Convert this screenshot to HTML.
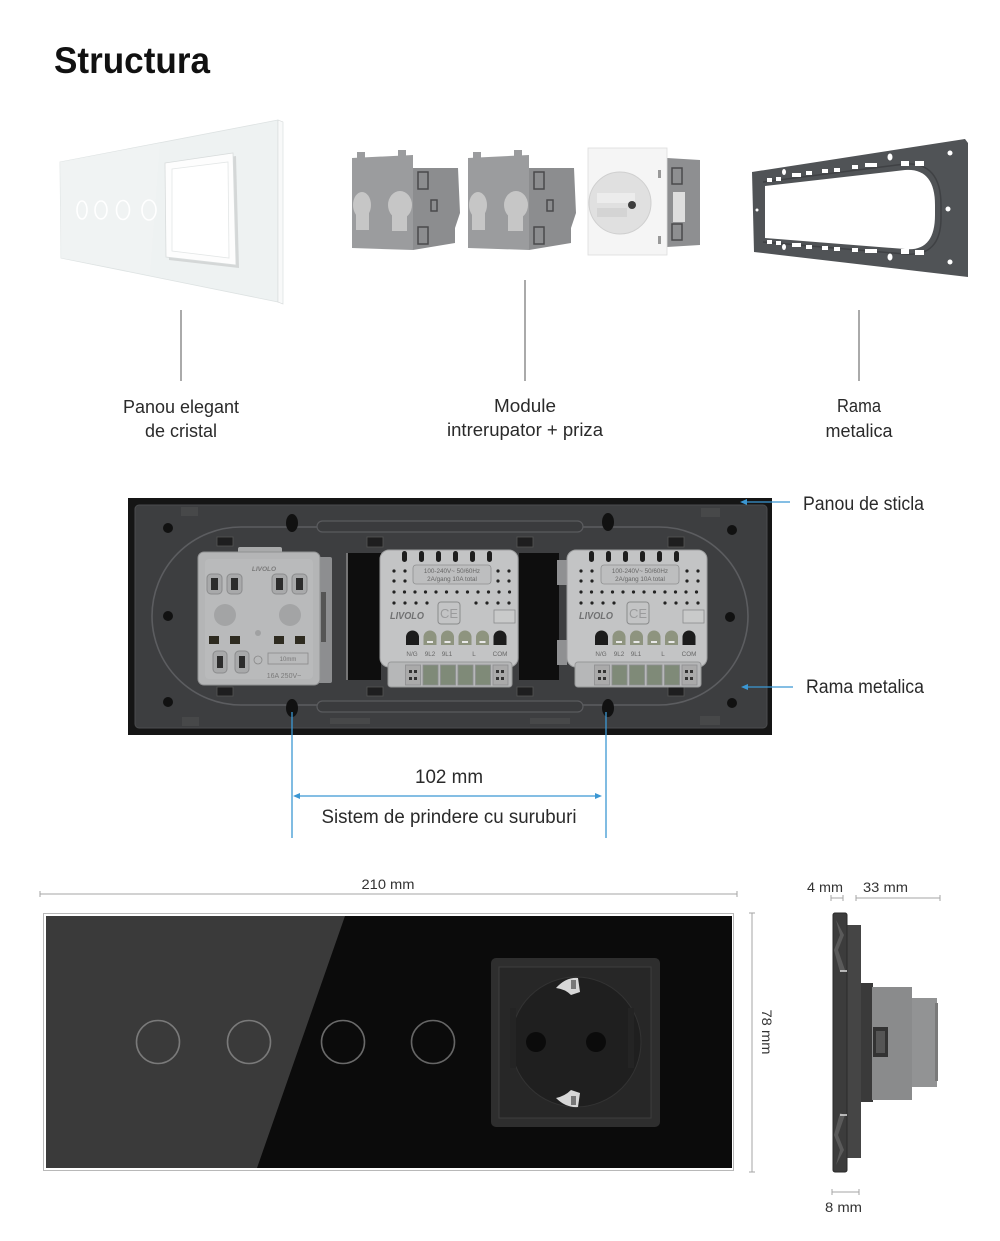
<!DOCTYPE html>
<html><head><meta charset="utf-8">
<style>
html,body{margin:0;padding:0;background:#fff;}
svg{display:block;}
text{font-family:"Liberation Sans",sans-serif;}
</style></head>
<body>
<svg width="1000" height="1241" viewBox="0 0 1000 1241" xmlns="http://www.w3.org/2000/svg">
<rect width="1000" height="1241" fill="#fff"/>

<!-- Title -->
<text x="54" y="73" font-size="37" font-weight="bold" fill="#111" textLength="156" lengthAdjust="spacingAndGlyphs">Structura</text>

<!-- ===== TOP: white glass panel ===== -->
<polygon points="60,162 278,120 278,302 61,258" fill="#eef2f2" stroke="#dde2e2" stroke-width="0.8"/>
<polygon points="60,162 160,143 150,275 61,258" fill="#f1f4f4" opacity="0.7"/>
<polygon points="278,120 283,122 283,304 278,302" fill="#f8f9f9" stroke="#d5d9d9" stroke-width="0.6"/>
<ellipse cx="82" cy="210" rx="5" ry="9" fill="none" stroke="#fff" stroke-width="1.6"/>
<ellipse cx="101" cy="210" rx="6" ry="9" fill="none" stroke="#fff" stroke-width="1.6"/>
<ellipse cx="123" cy="210" rx="6.5" ry="9.5" fill="none" stroke="#fff" stroke-width="1.6"/>
<ellipse cx="149" cy="210" rx="7" ry="10" fill="none" stroke="#fff" stroke-width="1.6"/>
<polygon points="168,166 236,156 239,268 169,260" fill="#c9cccc" opacity="0.7"/>
<polygon points="165,163 233,153 236,265 166,257" fill="#fdfdfd" stroke="#d8dcdc" stroke-width="0.8"/>
<polygon points="172,169 228,162 229,258 172,251" fill="#fff" stroke="#e3e6e6" stroke-width="0.8"/>

<!-- ===== TOP: modules ===== -->
<g>
  <polygon points="413,168 458,168 460,213 455,228 455,243 413,250" fill="#8c8d8f"/>
  <polygon points="352,158 413,155 413,250 352,248" fill="#9b9c9e"/>
  <rect x="357" y="152" width="8" height="7" fill="#9b9c9e"/>
  <rect x="398" y="150" width="8" height="7" fill="#9b9c9e"/>
  <ellipse cx="362" cy="205" rx="9" ry="13" fill="#c6c6c6"/>
  <rect x="356" y="210" width="13" height="20" fill="#c6c6c6"/>
  <ellipse cx="400" cy="205" rx="12" ry="14" fill="#c6c6c6"/>
  <rect x="392" y="210" width="15" height="21" fill="#c6c6c6"/>
  <rect x="418" y="172" width="10" height="17" fill="none" stroke="#4a4a4c" stroke-width="1.5"/>
  <rect x="431" y="200" width="6" height="11" fill="none" stroke="#4a4a4c" stroke-width="1.5"/>
  <rect x="418" y="227" width="10" height="17" fill="none" stroke="#4a4a4c" stroke-width="1.5"/>
</g>
<g transform="translate(116,0)">
  <polygon points="413,168 458,168 460,213 455,228 455,243 413,250" fill="#8c8d8f"/>
  <polygon points="352,158 413,155 413,250 352,248" fill="#9b9c9e"/>
  <rect x="357" y="152" width="8" height="7" fill="#9b9c9e"/>
  <rect x="398" y="150" width="8" height="7" fill="#9b9c9e"/>
  <ellipse cx="362" cy="205" rx="9" ry="13" fill="#c6c6c6"/>
  <rect x="356" y="210" width="13" height="20" fill="#c6c6c6"/>
  <ellipse cx="400" cy="205" rx="12" ry="14" fill="#c6c6c6"/>
  <rect x="392" y="210" width="15" height="21" fill="#c6c6c6"/>
  <rect x="418" y="172" width="10" height="17" fill="none" stroke="#4a4a4c" stroke-width="1.5"/>
  <rect x="431" y="200" width="6" height="11" fill="none" stroke="#4a4a4c" stroke-width="1.5"/>
  <rect x="418" y="227" width="10" height="17" fill="none" stroke="#4a4a4c" stroke-width="1.5"/>
</g>
<!-- socket top -->
<polygon points="667,158 700,160 700,245 667,247" fill="#8e8f91"/>
<rect x="673" y="192" width="12" height="30" fill="#dedede"/>
<rect x="672" y="168" width="10" height="16" fill="none" stroke="#4a4a4c" stroke-width="1.5"/>
<rect x="672" y="224" width="10" height="16" fill="none" stroke="#4a4a4c" stroke-width="1.5"/>
<rect x="588" y="148" width="79" height="107" fill="#f5f5f5" stroke="#dcdcdc" stroke-width="0.8"/>
<circle cx="620" cy="203" r="31" fill="#e0e0e0" stroke="#cfcfcf"/>
<rect x="597" y="193" width="38" height="10" fill="#ececec"/>
<rect x="597" y="208" width="30" height="9" fill="#d4d4d4"/>
<circle cx="632" cy="205" r="4" fill="#3e3e3e"/>
<rect x="658" y="170" width="3" height="8" fill="#999"/>
<rect x="658" y="236" width="3" height="8" fill="#999"/>

<!-- ===== TOP: metal frame ===== -->
<polygon points="752,172 965,139 968,143 968,277 754,252" fill="#505356"/>
<path d="M765,186 L905,170 Q935,168 935,205 L935,215 Q935,252 905,249 L765,238 Z" fill="#fff"/>
<path d="M763,182 L905,164 Q941,162 941,205 L941,218 Q941,257 905,254 L763,242" fill="none" stroke="#3f4144" stroke-width="1.5"/>
<g fill="#fff">
  <rect x="767" y="178" width="5" height="4"/><rect x="776" y="177" width="5" height="4"/>
  <rect x="792" y="173" width="9" height="4"/><rect x="806" y="171" width="6" height="4"/>
  <rect x="822" y="169" width="6" height="4"/><rect x="834" y="168" width="6" height="4"/>
  <rect x="852" y="165" width="6" height="4"/><rect x="865" y="163" width="12" height="4"/>
  <rect x="901" y="161" width="8" height="5"/><rect x="915" y="161" width="9" height="5"/>
  <rect x="767" y="240" width="5" height="4"/><rect x="776" y="241" width="5" height="4"/>
  <rect x="792" y="243" width="9" height="4"/><rect x="806" y="245" width="6" height="4"/>
  <rect x="822" y="246" width="6" height="4"/><rect x="834" y="247" width="6" height="4"/>
  <rect x="852" y="248" width="6" height="4"/><rect x="865" y="249" width="12" height="4"/>
  <rect x="901" y="249" width="8" height="5"/><rect x="915" y="250" width="9" height="5"/>
  <ellipse cx="784" cy="172" rx="2" ry="3"/><ellipse cx="890" cy="157" rx="2.5" ry="3.5"/>
  <ellipse cx="784" cy="247" rx="2" ry="3"/><ellipse cx="890" cy="257" rx="2.5" ry="3.5"/>
  <circle cx="950" cy="153" r="2.5"/><circle cx="948" cy="209" r="2.5"/><circle cx="950" cy="262" r="2.5"/>
  <circle cx="757" cy="210" r="1.5"/>
</g>

<!-- top connector lines -->
<line x1="181" y1="310" x2="181" y2="381" stroke="#555" stroke-width="1"/>
<line x1="525" y1="280" x2="525" y2="381" stroke="#555" stroke-width="1"/>
<line x1="859" y1="310" x2="859" y2="381" stroke="#555" stroke-width="1"/>

<!-- top labels -->
<g font-size="18" fill="#2a2a2a" text-anchor="middle">
  <text x="181" y="413" textLength="116" lengthAdjust="spacingAndGlyphs">Panou elegant</text>
  <text x="181" y="437" textLength="72" lengthAdjust="spacingAndGlyphs">de cristal</text>
  <text x="525" y="412" textLength="62" lengthAdjust="spacingAndGlyphs">Module</text>
  <text x="525" y="436" textLength="156" lengthAdjust="spacingAndGlyphs">intrerupator + priza</text>
  <text x="859" y="412" textLength="44" lengthAdjust="spacingAndGlyphs">Rama</text>
  <text x="859" y="437" textLength="67" lengthAdjust="spacingAndGlyphs">metalica</text>
</g>

<!-- ===== MIDDLE: back view ===== -->
<rect x="128" y="498" width="644" height="237" fill="#151515"/>
<rect x="135" y="505" width="632" height="223" rx="4" fill="#3d3e40" stroke="#4b4c4e" stroke-width="1"/>
<!-- edge notches -->
<g fill="#474849">
  <rect x="181" y="507" width="17" height="9"/><rect x="701" y="508" width="19" height="9"/>
  <rect x="182" y="717" width="17" height="9"/><rect x="700" y="716" width="20" height="9"/>
  <rect x="330" y="718" width="40" height="6"/><rect x="530" y="718" width="40" height="6"/>
</g>
<!-- racetrack -->
<rect x="152" y="527" width="596" height="178" rx="89" fill="none" stroke="#5c5d60" stroke-width="1.6"/>
<!-- grooves -->
<rect x="317" y="521" width="266" height="11" rx="5.5" fill="#3a3b3d" stroke="#5a5b5e" stroke-width="1.2"/>
<rect x="317" y="701" width="266" height="11" rx="5.5" fill="#3a3b3d" stroke="#5a5b5e" stroke-width="1.2"/>
<!-- holes -->
<g fill="#111">
  <circle cx="168" cy="528" r="5"/><circle cx="168" cy="616" r="5"/><circle cx="168" cy="702" r="5"/>
  <circle cx="732" cy="530" r="5"/><circle cx="730" cy="617" r="5"/><circle cx="732" cy="703" r="5"/>
  <ellipse cx="292" cy="523" rx="6" ry="9"/><ellipse cx="292" cy="708" rx="6" ry="9"/>
  <ellipse cx="608" cy="522" rx="6" ry="9"/><ellipse cx="608" cy="708" rx="6" ry="9"/>
</g>
<!-- clip slots -->
<g fill="#1e1e1f" stroke="#555" stroke-width="0.8">
  <rect x="217" y="537" width="16" height="9"/><rect x="367" y="537" width="16" height="10"/>
  <rect x="517" y="537" width="16" height="10"/><rect x="668" y="537" width="16" height="10"/>
  <rect x="217" y="687" width="16" height="9"/><rect x="367" y="687" width="16" height="9"/>
  <rect x="517" y="687" width="16" height="9"/><rect x="668" y="687" width="16" height="9"/>
</g>
<!-- black gaps -->
<rect x="348" y="553" width="33" height="127" fill="#0e0e0e"/>
<line x1="347" y1="553" x2="347" y2="680" stroke="#aaa" stroke-width="1"/>
<rect x="519" y="553" width="40" height="127" fill="#0e0e0e"/>
<rect x="557" y="560" width="10" height="25" fill="#8f9092"/>
<rect x="557" y="640" width="10" height="25" fill="#8f9092"/>

<!-- Module A (Schuko back) -->
<g transform="translate(198,552)">
  <rect x="116" y="5" width="18" height="126" rx="2" fill="#8d8e90"/>
  <rect x="123" y="40" width="5" height="50" fill="#555"/>
  <rect x="40" y="-5" width="44" height="9" rx="2" fill="#a9aaab"/>
  <rect x="0" y="0" width="122" height="133" rx="6" fill="#b4b5b6" stroke="#909192" stroke-width="1"/>
  <rect x="7" y="7" width="108" height="120" rx="4" fill="#b9babb"/>
  <text x="66" y="19" font-size="6.5" font-style="italic" font-weight="bold" fill="#7a7a7a" text-anchor="middle">LIVOLO</text>
  <g fill="#a8a9aa" stroke="#8b8c8d" stroke-width="1">
    <rect x="9" y="22" width="15" height="20" rx="4"/><rect x="29" y="22" width="15" height="20" rx="4"/>
    <rect x="74" y="22" width="15" height="20" rx="4"/><rect x="94" y="22" width="15" height="20" rx="4"/>
  </g>
  <g fill="#2c2c2c">
    <rect x="13" y="26" width="7" height="12"/><rect x="33" y="26" width="7" height="12"/>
    <rect x="78" y="26" width="7" height="12"/><rect x="98" y="26" width="7" height="12"/>
  </g>
  <circle cx="27" cy="63" r="11" fill="#a3a4a5"/>
  <circle cx="92" cy="63" r="11" fill="#a3a4a5"/>
  <circle cx="60" cy="81" r="3" fill="#a0a1a2"/>
  <g fill="#2e2b20">
    <rect x="11" y="84" width="10" height="8"/><rect x="32" y="84" width="10" height="8"/>
    <rect x="76" y="84" width="10" height="8"/><rect x="97" y="84" width="10" height="8"/>
  </g>
  <g fill="#a8a9aa" stroke="#8b8c8d" stroke-width="1">
    <rect x="15" y="99" width="14" height="22" rx="4"/><rect x="37" y="99" width="14" height="22" rx="4"/>
  </g>
  <rect x="19" y="104" width="6" height="12" fill="#2c2c2c"/><rect x="41" y="104" width="6" height="12" fill="#2c2c2c"/>
  <circle cx="60" cy="108" r="4" fill="none" stroke="#888" stroke-width="0.8"/>
  <rect x="70" y="101" width="40" height="11" fill="none" stroke="#8a8a8a" stroke-width="0.8"/>
  <text x="90" y="109" font-size="6" fill="#777" text-anchor="middle">10mm</text>
  <text x="86" y="126" font-size="7" fill="#7a7a7a" text-anchor="middle">16A 250V~</text>
</g>

<!-- Module B -->
<g transform="translate(380,548)">
  <rect x="0" y="2" width="138" height="117" rx="9" fill="#c3c4c5" stroke="#9c9d9e" stroke-width="1"/>
  <rect x="8" y="114" width="124" height="25" rx="3" fill="#b6b7b8" stroke="#979899" stroke-width="1"/>
  <g fill="#1d1d1d">
    <rect x="22" y="3" width="5" height="11" rx="2.5"/><rect x="39" y="3" width="5" height="11" rx="2.5"/>
    <rect x="56" y="3" width="5" height="11" rx="2.5"/><rect x="73" y="3" width="5" height="11" rx="2.5"/>
    <rect x="90" y="3" width="5" height="11" rx="2.5"/><rect x="107" y="3" width="5" height="11" rx="2.5"/>
  </g>
  <rect x="33" y="17" width="78" height="19" rx="3" fill="#bdbebf" stroke="#8e8f90" stroke-width="0.8"/>
  <text x="72" y="25" font-size="6.3" fill="#666" text-anchor="middle">100-240V~ 50/60Hz</text>
  <text x="72" y="33" font-size="6.3" fill="#666" text-anchor="middle">2A/gang 10A total</text>
  <g fill="#222">
    <circle cx="14" cy="23" r="1.6"/><circle cx="25" cy="23" r="1.6"/><circle cx="14" cy="33" r="1.6"/><circle cx="25" cy="33" r="1.6"/>
    <circle cx="118" cy="23" r="1.6"/><circle cx="129" cy="23" r="1.6"/><circle cx="118" cy="33" r="1.6"/><circle cx="129" cy="33" r="1.6"/>
    <circle cx="14" cy="44" r="1.6"/><circle cx="24.5" cy="44" r="1.6"/><circle cx="35" cy="44" r="1.6"/><circle cx="45.5" cy="44" r="1.6"/>
    <circle cx="56" cy="44" r="1.6"/><circle cx="66.5" cy="44" r="1.6"/><circle cx="77" cy="44" r="1.6"/><circle cx="87.5" cy="44" r="1.6"/>
    <circle cx="98" cy="44" r="1.6"/><circle cx="108.5" cy="44" r="1.6"/><circle cx="119" cy="44" r="1.6"/><circle cx="129.5" cy="44" r="1.6"/>
    <circle cx="14" cy="55" r="1.6"/><circle cx="25" cy="55" r="1.6"/><circle cx="36" cy="55" r="1.6"/><circle cx="47" cy="55" r="1.6"/>
    <circle cx="96" cy="55" r="1.6"/><circle cx="107" cy="55" r="1.6"/><circle cx="118" cy="55" r="1.6"/><circle cx="129" cy="55" r="1.6"/>
  </g>
  <text x="10" y="71" font-size="10" font-style="italic" font-weight="bold" fill="#707172" textLength="34" lengthAdjust="spacingAndGlyphs">LIVOLO</text>
  <rect x="58" y="54" width="22" height="22" rx="3" fill="none" stroke="#8a8b8c" stroke-width="1"/>
  <text x="69" y="70" font-size="13" fill="#9a9b9c" text-anchor="middle">CE</text>
  <rect x="114" y="62" width="21" height="13" fill="#c9caca" stroke="#8a8b8c" stroke-width="0.8"/>
  <path d="M26,97 v-8 a6.5,6.5 0 0 1 13,0 v8 z" fill="#1c1c1c"/>
  <path d="M43.5,97 v-8 a6.5,6.5 0 0 1 13,0 v8 z" fill="#8e947f"/>
  <path d="M61,97 v-8 a6.5,6.5 0 0 1 13,0 v8 z" fill="#8e947f"/>
  <path d="M78.5,97 v-8 a6.5,6.5 0 0 1 13,0 v8 z" fill="#8e947f"/>
  <path d="M96,97 v-8 a6.5,6.5 0 0 1 13,0 v8 z" fill="#8e947f"/>
  <path d="M113.5,97 v-8 a6.5,6.5 0 0 1 13,0 v8 z" fill="#1c1c1c"/>
  <g fill="#e8e8e8"><rect x="47" y="93" width="6" height="2"/><rect x="64.5" y="93" width="6" height="2"/><rect x="82" y="93" width="6" height="2"/><rect x="99.5" y="93" width="6" height="2"/></g>
  <g font-size="6.3" fill="#666" text-anchor="middle">
    <text x="32" y="108">N/G</text><text x="50" y="108">9L2</text><text x="67" y="108">9L1</text><text x="94" y="108">L</text><text x="120" y="108">COM</text>
  </g>
  <g fill="#7f8a78" stroke="#8d8e8f" stroke-width="0.8">
    <rect x="43" y="117" width="15" height="20"/><rect x="60.5" y="117" width="15" height="20"/>
    <rect x="78" y="117" width="15" height="20"/><rect x="95.5" y="117" width="15" height="20"/>
  </g>
  <g fill="#aaa" stroke="#8d8e8f" stroke-width="0.8">
    <rect x="25.5" y="117" width="15" height="20"/><rect x="113" y="117" width="15" height="20"/>
  </g>
  <g fill="#333"><rect x="29" y="122" width="3" height="3"/><rect x="34" y="122" width="3" height="3"/><rect x="29" y="129" width="3" height="3"/><rect x="34" y="129" width="3" height="3"/>
  <rect x="116" y="122" width="3" height="3"/><rect x="121" y="122" width="3" height="3"/><rect x="116" y="129" width="3" height="3"/><rect x="121" y="129" width="3" height="3"/></g>
</g>

<!-- Module C -->
<g transform="translate(567,548)">
  <rect x="0" y="2" width="140" height="117" rx="9" fill="#c3c4c5" stroke="#9c9d9e" stroke-width="1"/>
  <rect x="8" y="114" width="126" height="25" rx="3" fill="#b6b7b8" stroke="#979899" stroke-width="1"/>
  <g fill="#1d1d1d">
    <rect x="22" y="3" width="5" height="11" rx="2.5"/><rect x="39" y="3" width="5" height="11" rx="2.5"/>
    <rect x="56" y="3" width="5" height="11" rx="2.5"/><rect x="73" y="3" width="5" height="11" rx="2.5"/>
    <rect x="90" y="3" width="5" height="11" rx="2.5"/><rect x="107" y="3" width="5" height="11" rx="2.5"/>
  </g>
  <rect x="34" y="17" width="78" height="19" rx="3" fill="#bdbebf" stroke="#8e8f90" stroke-width="0.8"/>
  <text x="73" y="25" font-size="6.3" fill="#666" text-anchor="middle">100-240V~ 50/60Hz</text>
  <text x="73" y="33" font-size="6.3" fill="#666" text-anchor="middle">2A/gang 10A total</text>
  <g fill="#222">
    <circle cx="14" cy="23" r="1.6"/><circle cx="25" cy="23" r="1.6"/><circle cx="14" cy="33" r="1.6"/><circle cx="25" cy="33" r="1.6"/>
    <circle cx="120" cy="23" r="1.6"/><circle cx="131" cy="23" r="1.6"/><circle cx="120" cy="33" r="1.6"/><circle cx="131" cy="33" r="1.6"/>
    <circle cx="14" cy="44" r="1.6"/><circle cx="24.5" cy="44" r="1.6"/><circle cx="35" cy="44" r="1.6"/><circle cx="45.5" cy="44" r="1.6"/>
    <circle cx="56" cy="44" r="1.6"/><circle cx="66.5" cy="44" r="1.6"/><circle cx="77" cy="44" r="1.6"/><circle cx="87.5" cy="44" r="1.6"/>
    <circle cx="98" cy="44" r="1.6"/><circle cx="108.5" cy="44" r="1.6"/><circle cx="119" cy="44" r="1.6"/><circle cx="129.5" cy="44" r="1.6"/>
    <circle cx="14" cy="55" r="1.6"/><circle cx="25" cy="55" r="1.6"/><circle cx="36" cy="55" r="1.6"/><circle cx="47" cy="55" r="1.6"/>
    <circle cx="98" cy="55" r="1.6"/><circle cx="109" cy="55" r="1.6"/><circle cx="120" cy="55" r="1.6"/><circle cx="131" cy="55" r="1.6"/>
  </g>
  <text x="12" y="71" font-size="10" font-style="italic" font-weight="bold" fill="#707172" textLength="34" lengthAdjust="spacingAndGlyphs">LIVOLO</text>
  <rect x="60" y="54" width="22" height="22" rx="3" fill="none" stroke="#8a8b8c" stroke-width="1"/>
  <text x="71" y="70" font-size="13" fill="#9a9b9c" text-anchor="middle">CE</text>
  <rect x="116" y="62" width="21" height="13" fill="#c9caca" stroke="#8a8b8c" stroke-width="0.8"/>
  <path d="M28,97 v-8 a6.5,6.5 0 0 1 13,0 v8 z" fill="#1c1c1c"/>
  <path d="M45.5,97 v-8 a6.5,6.5 0 0 1 13,0 v8 z" fill="#8e947f"/>
  <path d="M63,97 v-8 a6.5,6.5 0 0 1 13,0 v8 z" fill="#8e947f"/>
  <path d="M80.5,97 v-8 a6.5,6.5 0 0 1 13,0 v8 z" fill="#8e947f"/>
  <path d="M98,97 v-8 a6.5,6.5 0 0 1 13,0 v8 z" fill="#8e947f"/>
  <path d="M115.5,97 v-8 a6.5,6.5 0 0 1 13,0 v8 z" fill="#1c1c1c"/>
  <g fill="#e8e8e8"><rect x="49" y="93" width="6" height="2"/><rect x="66.5" y="93" width="6" height="2"/><rect x="84" y="93" width="6" height="2"/><rect x="101.5" y="93" width="6" height="2"/></g>
  <g font-size="6.3" fill="#666" text-anchor="middle">
    <text x="34" y="108">N/G</text><text x="52" y="108">9L2</text><text x="69" y="108">9L1</text><text x="96" y="108">L</text><text x="122" y="108">COM</text>
  </g>
  <g fill="#7f8a78" stroke="#8d8e8f" stroke-width="0.8">
    <rect x="45" y="117" width="15" height="20"/><rect x="62.5" y="117" width="15" height="20"/>
    <rect x="80" y="117" width="15" height="20"/><rect x="97.5" y="117" width="15" height="20"/>
  </g>
  <g fill="#aaa" stroke="#8d8e8f" stroke-width="0.8">
    <rect x="27.5" y="117" width="15" height="20"/><rect x="115" y="117" width="15" height="20"/>
  </g>
  <g fill="#333"><rect x="31" y="122" width="3" height="3"/><rect x="36" y="122" width="3" height="3"/><rect x="31" y="129" width="3" height="3"/><rect x="36" y="129" width="3" height="3"/>
  <rect x="118" y="122" width="3" height="3"/><rect x="123" y="122" width="3" height="3"/><rect x="118" y="129" width="3" height="3"/><rect x="123" y="129" width="3" height="3"/></g>
</g>

<!-- blue arrows right -->
<g stroke="#3b97d3" stroke-width="1.3" fill="#3b97d3">
  <line x1="744" y1="502" x2="790" y2="502"/>
  <polygon points="740,502 747,499 747,505" stroke="none"/>
  <line x1="745" y1="687" x2="793" y2="687"/>
  <polygon points="741,687 748,684 748,690" stroke="none"/>
  <line x1="292" y1="712" x2="292" y2="838"/>
  <line x1="606" y1="712" x2="606" y2="838"/>
  <line x1="298" y1="796" x2="597" y2="796"/>
  <polygon points="293,796 300,793 300,799" stroke="none"/>
  <polygon points="602,796 595,793 595,799" stroke="none"/>
</g>
<g font-size="19" fill="#2a2a2a">
  <text x="803" y="510" textLength="121" lengthAdjust="spacingAndGlyphs">Panou de sticla</text>
  <text x="806" y="693" textLength="118" lengthAdjust="spacingAndGlyphs">Rama metalica</text>
  <text x="449" y="783" text-anchor="middle" textLength="68" lengthAdjust="spacingAndGlyphs">102 mm</text>
  <text x="449" y="823" text-anchor="middle" textLength="255" lengthAdjust="spacingAndGlyphs">Sistem de prindere cu suruburi</text>
</g>

<!-- ===== BOTTOM: front view ===== -->
<g stroke="#a5a5a5" stroke-width="1">
  <line x1="40" y1="894" x2="737" y2="894"/>
  <line x1="40" y1="891" x2="40" y2="897"/>
  <line x1="737" y1="891" x2="737" y2="897"/>
  <line x1="752" y1="913" x2="752" y2="1172"/>
  <line x1="749" y1="913" x2="755" y2="913"/>
  <line x1="749" y1="1172" x2="755" y2="1172"/>
</g>
<text x="388" y="889" font-size="14" fill="#333" text-anchor="middle" textLength="53" lengthAdjust="spacingAndGlyphs">210 mm</text>
<text transform="translate(762,1032) rotate(90)" x="0" y="0" font-size="14" fill="#333" text-anchor="middle" textLength="45" lengthAdjust="spacingAndGlyphs">78 mm</text>

<rect x="43.5" y="913.5" width="690" height="257" fill="#fff" stroke="#b8b8b8" stroke-width="1"/>
<rect x="46" y="916" width="686" height="252" fill="#0b0b0b"/>
<polygon points="46,916 345,916 257,1168 46,1168" fill="#3a3a3a"/>
<g fill="none" stroke-width="1.6">
  <circle cx="158" cy="1042" r="21.5" stroke="#7a7a7a"/>
  <circle cx="249" cy="1042" r="21.5" stroke="#7a7a7a"/>
  <circle cx="343" cy="1042" r="21.5" stroke="#6a6a6a"/>
  <circle cx="433" cy="1042" r="21.5" stroke="#666"/>
</g>
<!-- socket -->
<rect x="491" y="958" width="169" height="169" rx="5" fill="#2e2e2e"/>
<rect x="499" y="967" width="152" height="151" fill="#272727" stroke="#3d3d3d" stroke-width="1"/>
<circle cx="576" cy="1042" r="65" fill="#1f1f1f" stroke="#333" stroke-width="1"/>
<rect x="510" y="1008" width="6" height="60" fill="#242424"/>
<rect x="628" y="1008" width="6" height="60" fill="#242424"/>
<circle cx="536" cy="1042" r="10" fill="#0b0b0b"/>
<circle cx="596" cy="1042" r="10" fill="#0b0b0b"/>
<path d="M556,988 Q566,977 578,978 L580,992 L571,995 Q565,989 556,988 Z" fill="#d7d7d7"/>
<rect x="571" y="980" width="5" height="9" fill="#777"/>
<path d="M556,1098 Q566,1108 578,1107 L580,1093 L571,1090 Q565,1096 556,1098 Z" fill="#d7d7d7"/>
<rect x="571" y="1096" width="5" height="9" fill="#777"/>

<!-- ===== BOTTOM: side view ===== -->
<g stroke="#a5a5a5" stroke-width="1">
  <line x1="831" y1="898" x2="843" y2="898"/>
  <line x1="831" y1="895" x2="831" y2="901"/><line x1="843" y1="895" x2="843" y2="901"/>
  <line x1="856" y1="898" x2="940" y2="898"/>
  <line x1="856" y1="895" x2="856" y2="901"/><line x1="940" y1="895" x2="940" y2="901"/>
  <line x1="832" y1="1192" x2="859" y2="1192"/>
  <line x1="832" y1="1189" x2="832" y2="1195"/><line x1="859" y1="1189" x2="859" y2="1195"/>
</g>
<g font-size="14" fill="#333">
  <text x="807" y="892" textLength="36" lengthAdjust="spacingAndGlyphs">4 mm</text>
  <text x="863" y="892" textLength="45" lengthAdjust="spacingAndGlyphs">33 mm</text>
  <text x="825" y="1212" textLength="37" lengthAdjust="spacingAndGlyphs">8 mm</text>
</g>
<rect x="847" y="925" width="14" height="233" fill="#454545"/>
<rect x="833" y="913" width="14" height="259" rx="2" fill="#3c3c3c" stroke="#2a2a2a" stroke-width="1"/>
<path d="M836,920 L844,935 L838,950 L845,970 L840,972 L834,950 L840,935 Z" fill="#5a5a5a"/>
<path d="M836,1165 L844,1150 L838,1135 L845,1115 L840,1113 L834,1135 L840,1150 Z" fill="#5a5a5a"/>
<line x1="840" y1="971" x2="847" y2="971" stroke="#ddd" stroke-width="1.5"/>
<line x1="840" y1="1115" x2="847" y2="1115" stroke="#ddd" stroke-width="1.5"/>
<rect x="861" y="983" width="12" height="119" fill="#3a3a3a"/>
<rect x="872" y="987" width="40" height="113" fill="#8a8b8c"/>
<rect x="912" y="998" width="25" height="89" fill="#929394"/>
<rect x="935" y="1003" width="3" height="78" fill="#7a7a7a"/>
<rect x="873" y="1027" width="15" height="30" fill="#333"/>
<rect x="876" y="1031" width="9" height="22" fill="#555"/>
</svg>
</body></html>
